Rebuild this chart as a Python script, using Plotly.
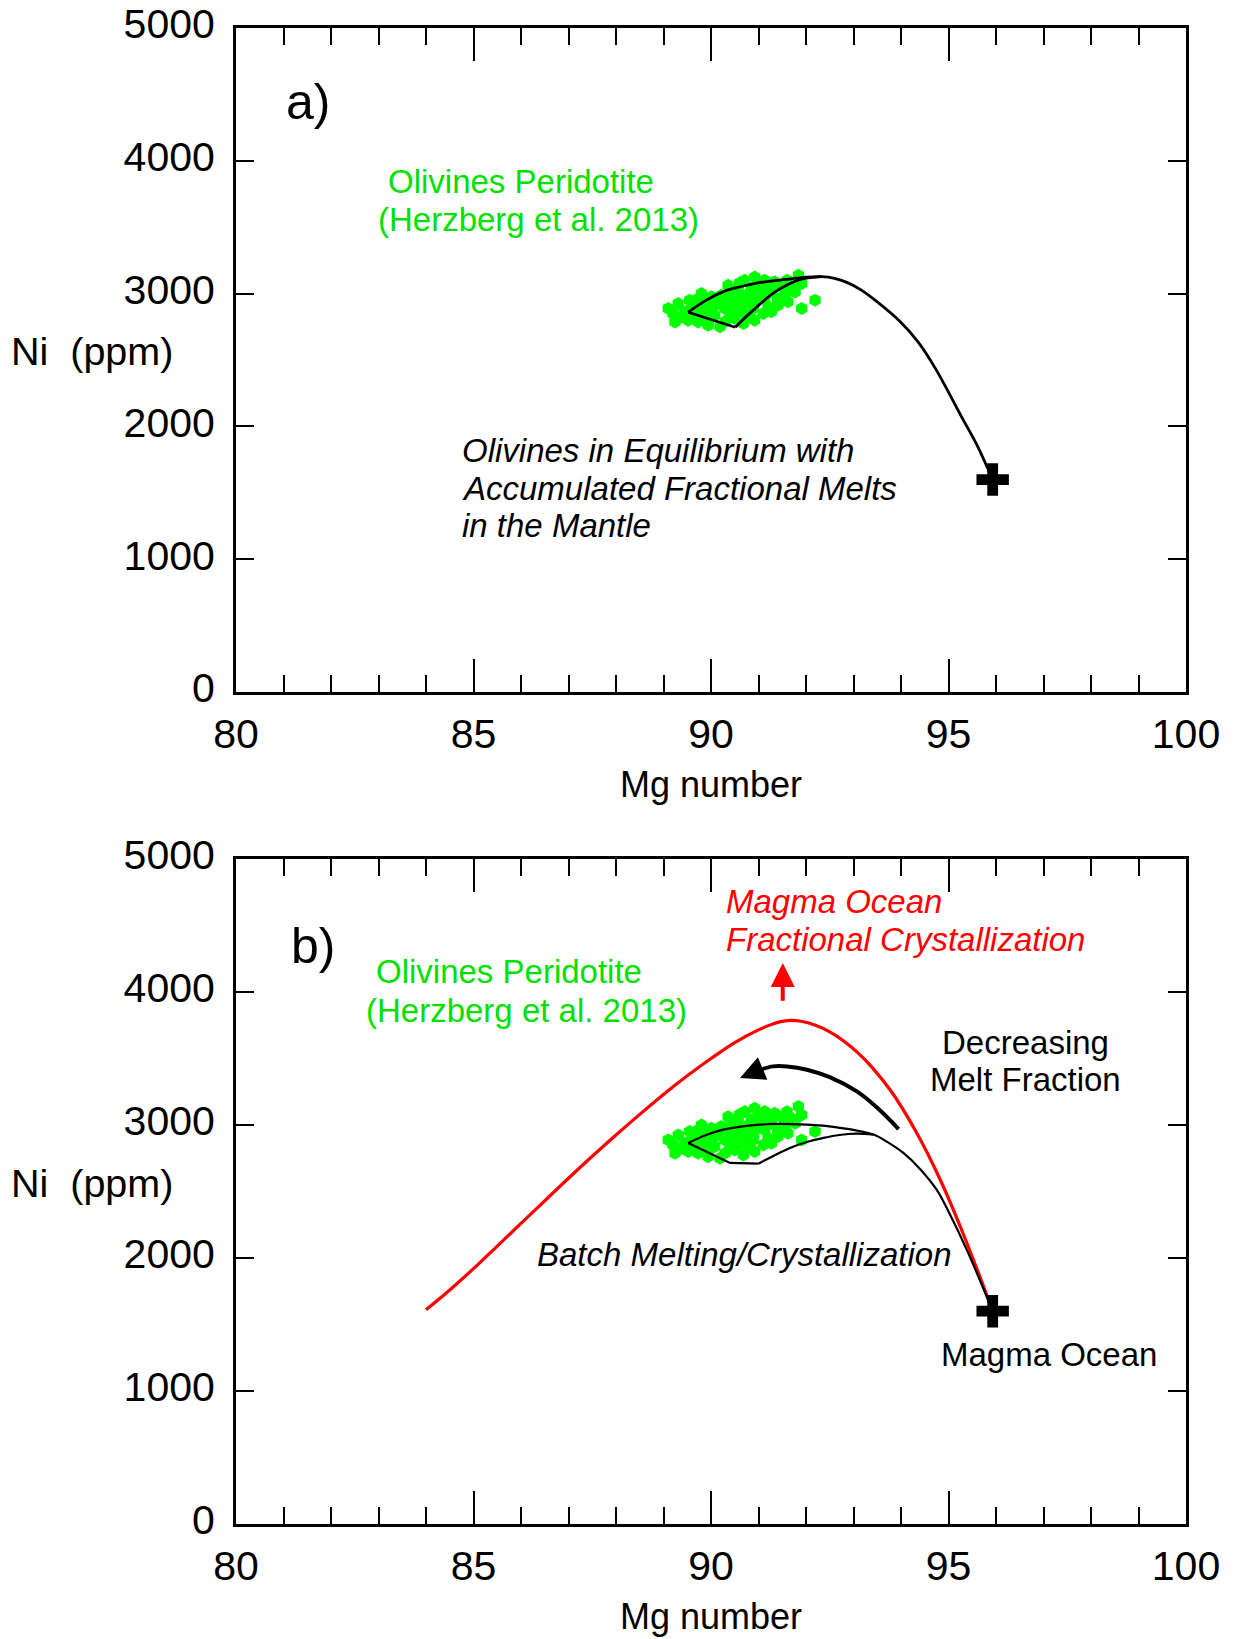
import plotly.graph_objects as go

# ---------------- data ----------------
# green olivine data (Herzberg et al. 2013), Mg number vs Ni ppm
oliv_mg = [89.10, 89.31, 89.31, 89.55, 89.73, 89.80, 89.52, 89.73, 89.94, 90.19,
           90.01, 90.22, 90.43, 90.29, 90.57, 90.71, 90.68, 90.50, 90.71, 90.92,
           91.13, 91.34, 90.85, 91.55, 91.62, 91.41, 91.27, 91.10, 90.89, 91.84,
           91.91, 91.77, 92.19, 91.91, 90.92, 91.13, 90.08, 89.87, 89.45, 89.87,
           90.22, 90.57, 91.06, 91.27, 90.92, 90.64, 90.43, 90.08, 89.66, 89.24,
           89.20, 90.36, 91.48, 89.66, 90.30,
           89.60, 89.90, 90.10, 90.35, 90.50, 90.75, 91.00, 91.20, 90.60, 91.40,
           91.60, 90.00, 90.80, 89.40, 91.70, 90.40, 91.00, 89.95, 90.90, 91.20]
oliv_ni = [2888, 2925, 2812, 2951, 2963, 3001, 2800, 2787, 2762, 2750,
           2976, 2988, 2988, 2888, 2963, 2925, 2775, 2812, 3101, 3126,
           3101, 3089, 3038, 3001, 2938, 2913, 2863, 2850, 2888, 3139,
           3076, 3013, 2951, 2888, 2800, 2963, 2838, 2863, 2863, 2938,
           2925, 3038, 3038, 3013, 2963, 2863, 2913, 2913, 2888, 2787,
           2850, 3063, 3060, 2825, 2790,
           2910, 2900, 2960, 2950, 2890, 2990, 3000, 3060, 3080, 2960,
           3100, 2870, 2840, 2830, 3050, 2840, 3080, 2800, 2920, 2900]

# magma ocean starting composition
mo_mg = [95.93]
mo_ni = [1600]

# panel a: accumulated fractional melts
accum_outer_mg = [95.93, 95.60, 95.29, 94.72, 94.35, 93.98, 93.42, 93.15, 92.86, 92.60, 92.33,
                  92.00, 91.80, 91.40, 90.96, 90.60, 90.26, 89.91, 89.52]
accum_outer_ni = [1600, 1860, 2063, 2439, 2640, 2790, 2960, 3030, 3085, 3115, 3128,
                  3124, 3116, 3100, 3079, 3050, 3015, 2953, 2860]
accum_seg_mg = [89.52, 90.51]
accum_seg_ni = [2860, 2747]
accum_inner_mg = [90.51, 90.82, 91.31, 91.65, 91.94, 92.33]
accum_inner_ni = [2747, 2853, 3003, 3075, 3112, 3128]

# panel b: batch melting / crystallization
batch_upper_mg = [95.93, 95.40, 95.00, 94.75, 94.40, 94.05, 93.70, 93.42, 93.05, 92.72, 92.35,
                  92.02, 91.31, 90.80, 90.26, 89.90, 89.52]
batch_upper_ni = [1600, 2050, 2350, 2514, 2670, 2790, 2875, 2928, 2960, 2978, 2995,
                  3003, 3008, 2995, 2965, 2925, 2865]
batch_seg_mg = [89.52, 90.40, 91.00]
batch_seg_ni = [2865, 2715, 2709]
batch_lower_mg = [91.00, 91.30, 91.66, 92.00, 92.37, 92.70, 93.07, 93.42]
batch_lower_ni = [2709, 2765, 2827, 2870, 2903, 2925, 2935, 2928]

# panel b: magma ocean fractional crystallization (red)
frac_mg = [84.0, 84.5, 85.0, 85.5, 86.0, 86.5, 87.0, 87.5, 88.0, 88.5, 89.0, 89.5, 90.0,
           90.5, 91.0, 91.3, 91.6, 91.9, 92.2, 92.5, 92.8, 93.1, 93.4, 93.8, 94.3, 94.85,
           95.3, 95.65, 95.93]
frac_ni = [1611, 1760, 1920, 2090, 2260, 2430, 2600, 2765, 2925, 3080, 3230, 3370, 3500,
           3620, 3715, 3760, 3785, 3780, 3750, 3700, 3630, 3540, 3430, 3250, 2960, 2570,
           2190, 1870, 1600]

# panel b: "decreasing melt fraction" arrow
dmf_mg = [93.95, 93.50, 93.07, 92.50, 92.02, 91.60, 91.31, 91.00]
dmf_ni = [2970, 3130, 3253, 3360, 3416, 3440, 3441, 3412]
dmf_tip = (90.61, 3354)

# red arrow
red_arrow_mg = 91.51
red_arrow_ni = (3923, 4219)

x_ticks = [80, 85, 90, 95, 100]
y_ticks = [0, 1000, 2000, 3000, 4000, 5000]

# ---------------- figure ----------------
FONT = "Arial, Liberation Sans, sans-serif"
GREEN_TXT = "rgb(0,225,0)"
fig = go.Figure()

SM = 1.0

def add_panel(xa, ya, panel):
    fig.add_trace(go.Scatter(x=oliv_mg, y=oliv_ni, mode="markers", xaxis=xa, yaxis=ya,
                             marker=dict(color="rgb(0,255,0)", size=13, symbol="hexagon",
                                         line=dict(width=0)),
                             showlegend=False, hoverinfo="skip"))
    if panel == "a":
        fig.add_trace(go.Scatter(x=accum_outer_mg, y=accum_outer_ni, mode="lines", xaxis=xa, yaxis=ya,
                                 line=dict(color="black", width=2.8, shape="spline", smoothing=SM),
                                 showlegend=False))
        fig.add_trace(go.Scatter(x=accum_seg_mg, y=accum_seg_ni, mode="lines", xaxis=xa, yaxis=ya,
                                 line=dict(color="black", width=2.8), showlegend=False))
        fig.add_trace(go.Scatter(x=accum_inner_mg, y=accum_inner_ni, mode="lines", xaxis=xa, yaxis=ya,
                                 line=dict(color="black", width=2.8, shape="spline", smoothing=SM),
                                 showlegend=False))
    else:
        fig.add_trace(go.Scatter(x=frac_mg, y=frac_ni, mode="lines", xaxis=xa, yaxis=ya,
                                 line=dict(color="red", width=3.2, shape="spline", smoothing=SM),
                                 showlegend=False))
        fig.add_trace(go.Scatter(x=batch_upper_mg, y=batch_upper_ni, mode="lines", xaxis=xa, yaxis=ya,
                                 line=dict(color="black", width=2.2, shape="spline", smoothing=SM),
                                 showlegend=False))
        fig.add_trace(go.Scatter(x=batch_seg_mg, y=batch_seg_ni, mode="lines", xaxis=xa, yaxis=ya,
                                 line=dict(color="black", width=2.2), showlegend=False))
        fig.add_trace(go.Scatter(x=batch_lower_mg, y=batch_lower_ni, mode="lines", xaxis=xa, yaxis=ya,
                                 line=dict(color="black", width=2.2, shape="spline", smoothing=SM),
                                 showlegend=False))
        fig.add_trace(go.Scatter(x=dmf_mg, y=dmf_ni, mode="lines", xaxis=xa, yaxis=ya,
                                 line=dict(color="black", width=4, shape="spline", smoothing=SM),
                                 showlegend=False))
    fig.add_trace(go.Scatter(x=mo_mg, y=mo_ni, mode="markers", xaxis=xa, yaxis=ya,
                             marker=dict(color="black", size=27, symbol="cross", line=dict(width=0)),
                             showlegend=False))

add_panel("x", "y", "a")
add_panel("x2", "y2", "b")

axis_common = dict(showgrid=False, zeroline=False, showline=True, linecolor="black", linewidth=3,
                   mirror="ticks", ticks="inside", tickcolor="black", tickwidth=2,
                   tickfont=dict(family=FONT, size=41, color="black"), automargin=False)

xcommon = dict(axis_common, range=[80, 100], tickvals=x_ticks, ticklen=33,
               minor=dict(dtick=1, ticklen=17, ticks="inside", tickwidth=2, tickcolor="black"),
               ticklabelstandoff=4,
               title=dict(text="Mg number", font=dict(family=FONT, size=36, color="black"), standoff=16))
ycommon = dict(axis_common, range=[0, 5000], tickvals=y_ticks, ticklen=18, ticklabelstandoff=10,
               ticklabelshift=-4)

fig.update_layout(
    width=1240, height=1639,
    margin=dict(l=236, r=54, t=28, b=115),
    paper_bgcolor="white", plot_bgcolor="white",
    xaxis=dict(xcommon, domain=[0, 1], anchor="y"),
    yaxis=dict(ycommon, domain=[0.5561, 1], anchor="x"),
    xaxis2=dict(xcommon, domain=[0, 1], anchor="y2"),
    yaxis2=dict(ycommon, domain=[0, 0.4445], anchor="x2"),
    showlegend=False,
)

ann = []
def txt(text, x, y, ref, size=33, color="black", italic=False, xanchor="center"):
    xr, yr = ref
    ann.append(dict(text=text, x=x, y=y, xref=xr, yref=yr, showarrow=False,
                    xanchor=xanchor, yanchor="middle",
                    font=dict(family=FONT, size=size, color=color,
                              style="italic" if italic else "normal")))

A = ("x", "y")
B = ("x2", "y2")
# panel a
txt("a)", 81.52, 4440, A, size=50)
txt("Olivines Peridotite", 85.99, 3842, A, color=GREEN_TXT)
txt("(Herzberg et al. 2013)", 86.36, 3559, A, color=GREEN_TXT)
txt("Olivines in Equilibrium with", 84.71, 1819, A, italic=True, xanchor="left")
txt("Accumulated Fractional Melts", 84.71, 1535, A, italic=True, xanchor="left")
txt("in the Mantle", 84.71, 1252, A, italic=True, xanchor="left")
# panel b
txt("b)", 81.62, 4347, B, size=50)
txt("Olivines Peridotite", 85.74, 4151, B, color=GREEN_TXT)
txt("(Herzberg et al. 2013)", 86.11, 3860, B, color=GREEN_TXT)
txt("Magma Ocean", 90.28, 4677, B, color="red", italic=True, xanchor="left")
txt("Fractional Crystallization", 90.28, 4395, B, color="red", italic=True, xanchor="left")
txt("Decreasing", 96.63, 3624, B)
txt("Melt Fraction", 96.63, 3341, B)
txt("Batch Melting/Crystallization", 90.70, 2028, B, italic=True)
txt("Magma Ocean", 97.12, 1273, B)

# y axis labels (horizontal)
for yp in (0.7838, 0.2278):
    ann.append(dict(text="Ni  (ppm)", x=-0.2385, y=yp, xref="paper", yref="paper", showarrow=False,
                    xanchor="left", yanchor="middle", font=dict(family=FONT, size=39.5, color="black")))

# arrows
ann.append(dict(text="", x=dmf_tip[0], y=dmf_tip[1], ax=24, ay=-10,
                xref="x2", yref="y2", showarrow=True,
                arrowhead=2, arrowsize=1.4, arrowwidth=3.5, arrowcolor="black", standoff=0))
ann.append(dict(text="", x=red_arrow_mg, y=red_arrow_ni[1], ax=red_arrow_mg, ay=red_arrow_ni[0],
                xref="x2", yref="y2", axref="x2", ayref="y2", showarrow=True,
                arrowhead=2, arrowsize=1.2, arrowwidth=4, arrowcolor="red", standoff=0))

fig.update_layout(annotations=ann)
fig.write_html("out.html")
